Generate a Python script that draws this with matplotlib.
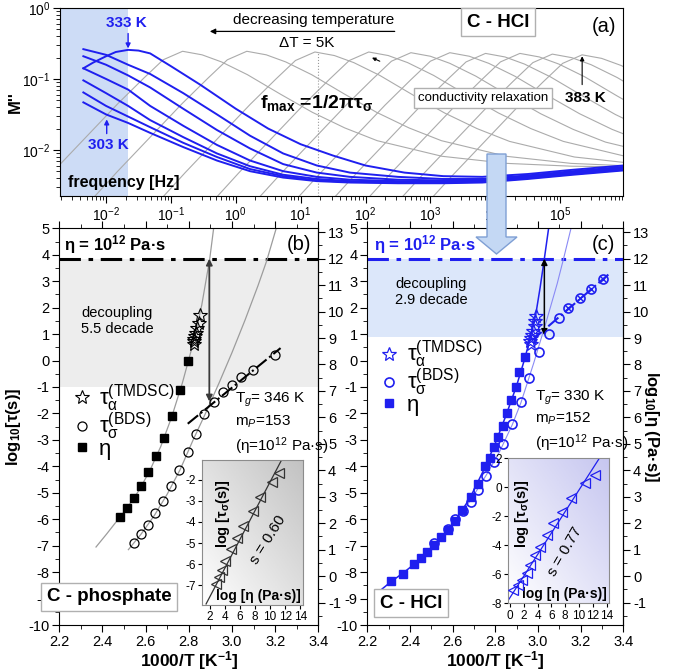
import matplotlib.pyplot as plt
import numpy as np
from matplotlib.patches import Polygon
from matplotlib.lines import Line2D
from matplotlib.colors import LinearSegmentedColormap
from matplotlib.ticker import LogLocator, MultipleLocator, FormatStrFormatter, NullFormatter

plt.rcParams['font.family'] = ['Liberation Sans', 'DejaVu Sans']
plt.rcParams['mathtext.fontset'] = 'custom'
plt.rcParams['mathtext.rm'] = 'Liberation Sans'
plt.rcParams['mathtext.it'] = 'Liberation Sans:italic'
plt.rcParams['mathtext.bf'] = 'Liberation Sans:bold'
plt.rcParams['axes.unicode_minus'] = False

BLUE = '#1f1fef'

# ---------------- panel (a): M'' spectra (log10 values)
blue_logf = [-2.35, -2.0, -1.66, -1.32, -0.81, -0.29, 0.22, 0.73, 1.25, 1.76, 2.5, 3.2, 3.8, 4.5, 5.2, 5.97]
m303 = [-1.33, -1.50, -1.62, -1.76, -1.96, -2.15, -2.30, -2.39, -2.44, -2.46, -2.47, -2.47, -2.46, -2.41, -2.35, -2.29]
m308 = [-1.19, -1.38, -1.53, -1.68, -1.90, -2.10, -2.27, -2.37, -2.43, -2.45, -2.46, -2.46, -2.45, -2.40, -2.34, -2.28]
m313 = [-1.02, -1.20, -1.38, -1.58, -1.82, -2.05, -2.23, -2.35, -2.41, -2.44, -2.45, -2.45, -2.44, -2.39, -2.33, -2.27]
m318 = [-0.85, -1.00, -1.15, -1.38, -1.66, -1.93, -2.15, -2.30, -2.38, -2.42, -2.44, -2.44, -2.43, -2.38, -2.32, -2.26]
m323 = [-0.68, -0.80, -0.95, -1.12, -1.42, -1.72, -1.98, -2.20, -2.32, -2.38, -2.42, -2.43, -2.42, -2.37, -2.31, -2.25]
m328 = [-0.58, -0.66, -0.80, -0.93, -1.20, -1.50, -1.80, -2.05, -2.22, -2.32, -2.38, -2.41, -2.41, -2.36, -2.30, -2.24]
logf333 = [-2.35, -2.2, -2.0, -1.85, -1.66, -1.5, -1.32, -1.0, -0.55, 0.0, 0.5, 1.0, 1.5, 2.0, 2.6, 3.2, 3.8, 4.5, 5.2, 5.97]
m333 = [-0.85, -0.77, -0.68, -0.62, -0.59, -0.60, -0.64, -0.82, -1.08, -1.42, -1.70, -1.92, -2.08, -2.22, -2.32, -2.37, -2.38, -2.34, -2.28, -2.22]

# gray spectra 338..383 K: peak positions and a common peak shape
gray_peak_logf = [-0.82, 0.17, 1.22, 2.05, 2.70, 3.30, 3.85, 4.38, 4.88, 5.34]
gray_peak_logm = [-0.61, -0.61, -0.62, -0.62, -0.63, -0.63, -0.64, -0.64, -0.65, -0.66]
shape_dlogf = [-3.5, -3.0, -2.5, -2.0, -1.5, -1.0, -0.6, -0.3, 0.0, 0.3, 0.6, 1.0, 1.5, 2.0, 2.5, 3.0, 4.0, 5.0, 6.0, 7.0]
shape_dlogm = [-3.2, -2.7, -2.2, -1.7, -1.22, -0.74, -0.38, -0.12, 0.0, -0.05, -0.15, -0.33, -0.6, -0.86, -1.08, -1.26, -1.48, -1.58, -1.62, -1.63]
shade_a_end = -1.66
fmax_logf = 1.27

# ---------------- panel (b): C - phosphate
eta_offset = 8.15
eta_line = 3.85
sq_b_x = [2.481, 2.515, 2.547, 2.580, 2.612, 2.648, 2.684, 2.721, 2.758, 2.795]
sq_b_logeta = [2.24, 2.58, 2.96, 3.42, 3.95, 4.54, 5.23, 6.06, 7.03, 8.14]
star_b_x = [2.852, 2.846, 2.840, 2.835, 2.830, 2.826, 2.822, 2.824]
star_b_y = [1.72, 1.40, 1.22, 1.05, 0.92, 0.82, 0.72, 0.62]
circ_b_x = [2.544, 2.578, 2.612, 2.645, 2.679, 2.718, 2.756, 2.795, 2.834, 2.872, 2.916, 2.958, 3.000, 3.042, 3.096, 3.197]
circ_b_y = [-6.91, -6.56, -6.22, -5.75, -5.31, -4.73, -4.14, -3.47, -2.77, -2.04, -1.56, -1.18, -0.93, -0.64, -0.36, 0.20]
fit1_b_x = [2.37, 2.42, 2.47, 2.52, 2.57, 2.62, 2.67, 2.72, 2.77, 2.82, 2.86, 2.897, 2.915]
fit1_b_y = [-7.05, -6.55, -6.03, -5.5, -4.9, -4.15, -3.25, -2.15, -0.85, 0.65, 2.1, 3.85, 5.0]
fit2_b_x = [2.52, 2.58, 2.64, 2.70, 2.76, 2.82, 2.88, 2.94, 3.00, 3.06, 3.12, 3.16, 3.205]
fit2_b_y = [-7.15, -6.55, -5.86, -5.05, -4.12, -3.0, -1.95, -0.85, 0.3, 1.52, 2.82, 3.75, 5.0]
arr_b_x = [2.795, 3.225]
arr_b_y = [-2.39, 0.47]
decoup_b = (2.895, -1.55)
shade_b_low = -1.0
ins_b_x = [2.86, 3.23, 3.56, 4.05, 4.79, 5.62, 6.44, 7.68, 8.70, 10.2, 11.2]
ins_b_y = [-6.95, -6.64, -6.28, -5.85, -5.30, -4.75, -4.20, -3.49, -2.82, -2.08, -1.66]
ins_b_line_x = [1.5, 11.5]
ins_b_line_y = [-7.9, -1.06]

# ---------------- panel (c): C - HCl
sq_c_x = [2.311, 2.366, 2.420, 2.450, 2.481, 2.513, 2.546, 2.579, 2.612, 2.645, 2.684, 2.718, 2.754, 2.775,
          2.792, 2.815, 2.834, 2.853, 2.874, 2.896, 2.913, 2.939]
sq_c_logeta = [-0.20, 0.09, 0.47, 0.68, 0.90, 1.19, 1.48, 1.75, 2.10, 2.48, 2.99, 3.49, 4.15, 4.48,
               4.87, 5.27, 5.69, 6.16, 6.65, 7.14, 7.70, 8.27]
star_c_x = [2.992, 2.988, 2.984, 2.979, 2.974, 2.969, 2.965, 2.967]
star_c_y = [1.70, 1.50, 1.30, 1.12, 0.97, 0.85, 0.72, 0.62]
circ_c_x = [2.513, 2.579, 2.612, 2.648, 2.688, 2.718, 2.757, 2.796, 2.836, 2.877, 2.919, 2.960, 3.004, 3.051, 3.098]
circ_c_y = [-6.90, -6.36, -6.00, -5.70, -5.33, -4.89, -4.35, -3.85, -3.15, -2.40, -1.55, -0.67, 0.31, 1.02, 1.60]
xcirc_c_x = [3.142, 3.198, 3.247, 3.303]
xcirc_c_y = [2.00, 2.38, 2.70, 3.07]
fit1_c_x = [2.26, 2.31, 2.37, 2.42, 2.48, 2.55, 2.61, 2.68, 2.75, 2.80, 2.85, 2.90, 2.94, 2.97, 2.99, 3.01, 3.03, 3.05]
fit1_c_y = [-8.70, -8.37, -8.02, -7.70, -7.27, -6.66, -6.08, -5.22, -4.07, -3.13, -2.08, -0.95, 0.12, 1.05, 1.75, 2.75, 3.85, 5.0]
fit2_c_x = [2.45, 2.52, 2.58, 2.64, 2.70, 2.76, 2.82, 2.88, 2.92, 2.98, 3.04, 3.09, 3.12, 3.155]
fit2_c_y = [-7.5, -6.92, -6.38, -5.8, -5.08, -4.3, -3.45, -2.42, -1.6, -0.1, 1.5, 2.9, 3.85, 5.0]
arr_c_x = [2.97, 3.33]
arr_c_y = [0.75, 3.25]
decoup_c = (3.03, 0.95)
shade_c_low = 0.88
ins_c_x = [0.5, 1.2, 1.7, 2.4, 2.9, 3.6, 4.4, 5.3, 6.3, 7.5, 8.9, 10.9, 12.3]
ins_c_y = [-7.08, -6.74, -6.39, -5.93, -5.36, -4.67, -4.09, -3.29, -2.48, -1.68, -0.76, 0.28, 0.85]
ins_c_line_x = [-0.2, 12.95]
ins_c_line_y = [-7.75, 2.0]

fig = plt.figure(figsize=(6.78, 6.72), dpi=100)

# ====================== (a)
axa = fig.add_axes([0.0885, 0.7083, 0.8304, 0.2798])
axa.set_xscale('log')
axa.set_yscale('log')
axa.axvspan(10**-3, 10**shade_a_end, color='#cddcf6', lw=0, zorder=0)
for pf, pm in zip(gray_peak_logf, gray_peak_logm):
    axa.plot(10**(pf + np.array(shape_dlogf)), 10**(pm + np.array(shape_dlogm)),
             color='#ababab', lw=0.8, zorder=1)
axa.axvline(10**fmax_logf, ymax=0.765, color='#9a9a9a', lw=0.8, ls=':', zorder=1)
for m in [m303, m308, m313, m318, m323, m328]:
    axa.plot(10**np.array(blue_logf), 10**np.array(m), color=BLUE, lw=1.4, zorder=3)
axa.plot(10**np.array(logf333), 10**np.array(m333), color=BLUE, lw=1.4, zorder=3)
axa.set_xlim(10**-2.71, 10**5.97)
axa.set_ylim(10**-2.65, 1)
axa.xaxis.set_major_locator(LogLocator(base=10, numticks=30))
axa.xaxis.set_minor_locator(LogLocator(base=10, subs=np.arange(2, 10) * 1.0, numticks=200))
axa.xaxis.set_minor_formatter(NullFormatter())
axa.yaxis.set_minor_locator(LogLocator(base=10, subs=np.arange(2, 10) * 1.0, numticks=50))
axa.yaxis.set_minor_formatter(NullFormatter())
axa.tick_params(which='both', direction='out', labelsize=10)
axa.tick_params(which='major', length=5, pad=2)
axa.tick_params(which='minor', length=3)
axa.set_ylabel("M''", fontsize=12, weight='bold')
axa.yaxis.set_label_coords(-0.066, 0.5)

axa.text(10**-1.68, 10**-0.21, '333 K', color=BLUE, weight='bold', fontsize=11, ha='center', va='center')
axa.annotate('', xy=(10**-1.66, 10**-0.57), xytext=(10**-1.66, 10**-0.36),
             arrowprops=dict(arrowstyle='-|>', color=BLUE, lw=1, mutation_scale=7, shrinkA=0, shrinkB=0))
axa.text(10**-1.96, 10**-1.93, '303 K', color=BLUE, weight='bold', fontsize=11, ha='center', va='center')
axa.annotate('', xy=(10**-1.99, 10**-1.57), xytext=(10**-1.99, 10**-1.77),
             arrowprops=dict(arrowstyle='-|>', color=BLUE, lw=1, mutation_scale=7, shrinkA=0, shrinkB=0))
axa.text(10**1.2, 10**-0.17, 'decreasing temperature', fontsize=11, ha='center', va='center')
axa.annotate('', xy=(10**-0.4, 10**-0.33), xytext=(10**2.45, 10**-0.33),
             arrowprops=dict(arrowstyle='-|>', color='black', lw=0.9, mutation_scale=8, shrinkA=0, shrinkB=0))
axa.text(10**1.09, 10**-0.5, 'ΔT = 5K', fontsize=11, ha='center', va='center')
axa.text(10**0.37, 10**-1.34, r'$\mathbf{f}_{\mathbf{max}}$ =1/2πτ$_{\mathbf{σ}}$', fontsize=14,
         weight='bold', ha='left', va='center')
axa.text(10**3.81, 10**-1.27, 'conductivity relaxation', fontsize=9.5, ha='center', va='center',
         bbox=dict(boxstyle='square,pad=0.3', fc='white', ec='#b0b0b0', lw=1), zorder=4)
axa.text(10**5.39, 10**-1.27, '383 K', weight='bold', fontsize=11, ha='center', va='center')
axa.annotate('', xy=(10**5.34, 10**-0.68), xytext=(10**5.34, 10**-1.08),
             arrowprops=dict(arrowstyle='-|>', color='black', lw=0.8, mutation_scale=6, shrinkA=0, shrinkB=0))
axa.annotate('', xy=(10**2.1, 10**-0.70), xytext=(10**2.22, 10**-0.75),
             arrowprops=dict(arrowstyle='-|>', color='black', lw=0.8, mutation_scale=5, shrinkA=0, shrinkB=0))
axa.text(10**4.04, 10**-0.2, 'C - HCl', fontsize=13.5, weight='bold', ha='center', va='center',
         bbox=dict(boxstyle='square,pad=0.3', fc='white', ec='#b0b0b0', lw=1), zorder=4)
axa.text(10**5.68, 10**-0.26, '(a)', fontsize=14.5, ha='center', va='center')
axa.text(10**-2.58, 10**-2.46, 'frequency [Hz]', fontsize=11.5, weight='bold', ha='left', va='center')


def setup_panel(ax):
    ax.set_xlim(2.2, 3.4)
    ax.set_ylim(-10, 5)
    ax.xaxis.set_major_locator(MultipleLocator(0.2))
    ax.xaxis.set_minor_locator(MultipleLocator(0.1))
    ax.xaxis.set_major_formatter(FormatStrFormatter('%.1f'))
    ax.yaxis.set_major_locator(MultipleLocator(1))
    ax.yaxis.set_minor_locator(MultipleLocator(0.5))
    ax.tick_params(which='both', direction='out', top=True, labelsize=10.5)
    ax.tick_params(which='major', length=5, pad=2)
    ax.tick_params(which='minor', length=3)
    sec = ax.secondary_yaxis('right', functions=(lambda y: y + eta_offset, lambda y: y - eta_offset))
    sec.yaxis.set_major_locator(MultipleLocator(1))
    sec.yaxis.set_minor_locator(MultipleLocator(0.5))
    sec.tick_params(which='both', direction='out', labelsize=10.5)
    sec.tick_params(which='major', length=5, pad=2)
    sec.tick_params(which='minor', length=3)
    ax.set_xlabel(r'1000/T [K$^{\mathbf{-1}}$]', fontsize=12.5, weight='bold', labelpad=0)
    return sec


def make_inset(rect, top_color, xlim, ylim, xticks, yticks):
    ins = fig.add_axes(rect)
    cmap = LinearSegmentedColormap.from_list('g', ['white', top_color])
    u = np.linspace(0, 1, 60)
    grad = (u[None, :] + u[:, None]) / 2
    ins.imshow(grad, extent=[0, 1, 0, 1], transform=ins.transAxes, cmap=cmap, origin='lower',
               aspect='auto', zorder=0)
    ins.set_xlim(*xlim)
    ins.set_ylim(*ylim)
    ins.set_xticks(xticks)
    ins.set_yticks(yticks)
    ins.tick_params(direction='out', length=3, labelsize=8.5, pad=1.5)
    for s in ins.spines.values():
        s.set_color('#8c8c8c')
    ins.text(0.555, 0.062, 'log [η (Pa·s)]', transform=ins.transAxes, fontsize=10, weight='bold',
             ha='center', va='center')
    return ins


legend_labels = [r'$\mathrm{τ}_{\mathrm{α}}^{\mathrm{(TMDSC)}}$', r'$\mathrm{τ}_{\mathrm{σ}}^{\mathrm{(BDS)}}$', 'η']

# ====================== (b)
axb = fig.add_axes([0.0875, 0.0699, 0.382, 0.5904])
setup_panel(axb)
axb.axhspan(shade_b_low, eta_line, color='#ededed', lw=0, zorder=0)
axb.axhline(eta_line, color='black', lw=2.2, ls=(0, (7, 2.5, 1.5, 2.5)), zorder=2)
axb.plot(fit1_b_x, fit1_b_y, color='#9c9c9c', lw=0.9, zorder=2)
axb.plot(fit2_b_x, fit2_b_y, color='#9c9c9c', lw=0.9, zorder=2)
axb.plot(arr_b_x, arr_b_y, color='black', lw=1.5, ls='-.', zorder=2)
axb.plot(sq_b_x, np.array(sq_b_logeta) - eta_offset, 's', color='black', ms=6, zorder=4)
axb.plot(circ_b_x, circ_b_y, 'o', mfc='none', mec='black', mew=0.9, ms=6.5, zorder=4)
axb.plot(star_b_x, star_b_y, '*', mfc='none', mec='black', mew=0.8, ms=10, zorder=4)
axb.annotate('', xy=(decoup_b[0], eta_line), xytext=decoup_b,
             arrowprops=dict(arrowstyle='<|-|>', color='#3a3a3a', lw=1.3, mutation_scale=9, shrinkA=0, shrinkB=0))
axb.text(2.22, 4.37, r'η = 10$^{\mathbf{12}}$ Pa·s', fontsize=12, weight='bold', ha='left', va='center')
axb.text(3.31, 4.37, '(b)', fontsize=14.5, ha='center', va='center')
axb.text(2.30, 1.5, 'decoupling\n5.5 decade', fontsize=10.5, ha='left', va='center', linespacing=1.2)
axb.text(3.015, -2.4, 'T$_g$= 346 K\nm$_P$=153\n(η=10$^{12}$ Pa·s)', fontsize=11, ha='left', va='center',
         linespacing=1.35)
axb.text(2.432, -8.93, 'C - phosphate', fontsize=13.5, weight='bold', ha='center', va='center', clip_on=False,
         bbox=dict(boxstyle='square,pad=0.3', fc='white', ec='#b0b0b0', lw=1), zorder=6)
axb.set_ylabel(r'log$_{\mathbf{10}}$[τ(s)]', fontsize=12, weight='bold')
axb.yaxis.set_label_coords(-0.142, 0.5)
hb = [Line2D([], [], marker='*', ls='none', mfc='none', mec='black', ms=10, mew=0.8),
      Line2D([], [], marker='o', ls='none', mfc='none', mec='black', ms=6.5, mew=0.9),
      Line2D([], [], marker='s', ls='none', color='black', ms=6)]
axb.legend(hb, legend_labels, loc='upper left', bbox_to_anchor=(0.0, 0.645), frameon=False, fontsize=16,
           handlelength=0.8, handletextpad=0.4, labelspacing=-0.15, borderaxespad=0.2)

insb = make_inset([0.2984, 0.0997, 0.149, 0.2158], '#c2c2c2', (1.0, 14.4), (-7.95, -1.05),
                  range(2, 15, 2), range(-7, -1))
insb.plot(ins_b_line_x, ins_b_line_y, color='#333333', lw=0.9, zorder=2)
insb.plot(ins_b_x, ins_b_y, '<', mfc='none', mec='#333333', mew=0.9, ms=6.5, zorder=3)
insb.text(0.2, 0.63, 'log [τ$_{\mathbf{σ}}$(s)]', transform=insb.transAxes, rotation=90, fontsize=10.5,
          weight='bold', ha='center', va='center')
insb.text(0.65, 0.45, 's = 0.60', transform=insb.transAxes, rotation=58, fontsize=11, ha='center', va='center')

# ====================== (c)
axc = fig.add_axes([0.5417, 0.0699, 0.3776, 0.5904])
secc = setup_panel(axc)
axc.axhspan(shade_c_low, eta_line, color='#dce7fa', lw=0, zorder=0)
axc.axhline(eta_line, color=BLUE, lw=2.2, ls=(0, (7, 2.5, 1.5, 2.5)), zorder=2)
axc.plot(fit2_c_x, fit2_c_y, color='#8a8af5', lw=0.8, zorder=2)
axc.plot(fit1_c_x, fit1_c_y, color=BLUE, lw=1.1, zorder=2)
axc.plot(arr_c_x, arr_c_y, color=BLUE, lw=1.5, ls='-.', zorder=2)
axc.plot(sq_c_x, np.array(sq_c_logeta) - eta_offset, 's', color=BLUE, ms=6, zorder=4)
axc.plot(circ_c_x, circ_c_y, 'o', mfc='none', mec=BLUE, mew=1.2, ms=6.5, zorder=4)
axc.plot(xcirc_c_x, xcirc_c_y, 'o', mfc='none', mec=BLUE, mew=1.2, ms=6.5, zorder=4)
axc.plot(xcirc_c_x, xcirc_c_y, 'x', color=BLUE, mew=1.0, ms=4, zorder=4)
axc.plot(star_c_x, star_c_y, '*', mfc='none', mec=BLUE, mew=0.9, ms=10, zorder=4)
axc.annotate('', xy=(decoup_c[0], eta_line), xytext=decoup_c,
             arrowprops=dict(arrowstyle='<|-|>', color='black', lw=1.1, mutation_scale=9, shrinkA=0, shrinkB=0))
axc.text(2.23, 4.37, r'η = 10$^{\mathbf{12}}$ Pa·s', fontsize=12, weight='bold', color=BLUE,
         ha='left', va='center')
axc.text(3.307, 4.37, '(c)', fontsize=14.5, ha='center', va='center')
axc.text(2.33, 2.6, 'decoupling\n2.9 decade', fontsize=10.5, ha='left', va='center', linespacing=1.2)
axc.text(2.985, -2.3, 'T$_g$= 330 K\nm$_P$=152\n(η=10$^{12}$ Pa·s)', fontsize=11, ha='left', va='center',
         linespacing=1.35)
axc.text(2.406, -9.17, 'C - HCl', fontsize=13.5, weight='bold', ha='center', va='center', clip_on=False,
         bbox=dict(boxstyle='square,pad=0.3', fc='white', ec='#b0b0b0', lw=1), zorder=6)
secc.set_ylabel(r'log$_{\mathbf{10}}$[η (Pa·s)]', fontsize=12, weight='bold', rotation=270, va='center')
secc.yaxis.set_label_coords(1.112, 0.5, transform=axc.transAxes)
hc = [Line2D([], [], marker='*', ls='none', mfc='none', mec=BLUE, ms=10, mew=0.9),
      Line2D([], [], marker='o', ls='none', mfc='none', mec=BLUE, ms=6.5, mew=1.2),
      Line2D([], [], marker='s', ls='none', color=BLUE, ms=6)]
axc.legend(hc, legend_labels, loc='upper left', bbox_to_anchor=(0.0, 0.755), frameon=False, fontsize=16,
           handlelength=0.8, handletextpad=0.4, labelspacing=-0.15, borderaxespad=0.2)

insc = make_inset([0.7497, 0.1022, 0.149, 0.2158], '#c6c6f0', (-0.25, 14.4), (-8, 2),
                  range(0, 15, 2), range(-8, 3, 2))
insc.plot(ins_c_line_x, ins_c_line_y, color=BLUE, lw=0.9, zorder=2)
insc.plot(ins_c_x, ins_c_y, '<', mfc='none', mec=BLUE, mew=0.9, ms=6.5, zorder=3)
insc.text(0.135, 0.62, 'log [τ$_{\mathbf{σ}}$(s)]', transform=insc.transAxes, rotation=90, fontsize=10.5,
          weight='bold', ha='center', va='center')
insc.text(0.56, 0.36, 's = 0.77', transform=insc.transAxes, rotation=60, fontsize=11, ha='center', va='center')

# block arrow from (a) to (c)
W, H = 678.0, 672.0
arrow_px = [(487, 154), (506, 154), (506, 237), (517, 237), (496.5, 254), (476, 237), (487, 237)]
arrow = Polygon([(x / W, 1 - y / H) for x, y in arrow_px], closed=True, transform=fig.transFigure,
                fc='#c4d8f4', ec='#7f9fd4', lw=1, zorder=10)
fig.patches.append(arrow)

fig.savefig('out.png', dpi=100)
